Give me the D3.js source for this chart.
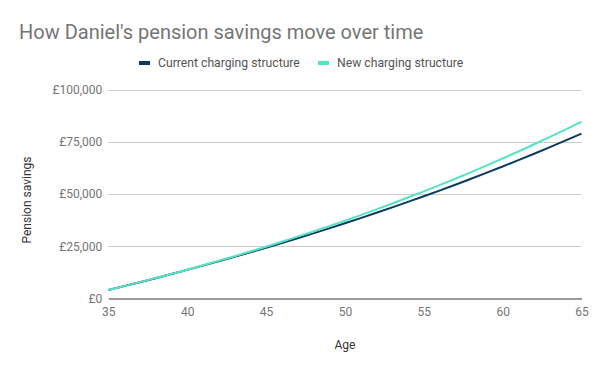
<!DOCTYPE html>
<html>
<head>
<meta charset="utf-8">
<script src="https://cdn.jsdelivr.net/npm/d3@7"></script>
<style>
  html, body { margin: 0; padding: 0; background: #fff; }
  svg { display: block; font-family: Roboto, "Noto Sans", sans-serif; }
</style>
</head>
<body>
<svg id="chart" width="600" height="371"></svg>
<script>
const ages = [35,36,37,38,39,40,41,42,43,44,45,46,47,48,49,50,51,52,53,54,55,56,57,58,59,60,61,62,63,64,65];
const currentCharging = [4000,5850,7740,9660,11620,13620,15660,17750,19870,22040,24250,26500,28800,31140,33540,35980,38460,41000,43590,46230,48930,51670,54480,57330,60250,63220,66260,69350,72510,75730,79010];
const newCharging = [4000,5850,7750,9700,11690,13730,15830,17980,20180,22440,24750,27130,29560,32050,34600,37220,39890,42640,45440,48320,51270,54270,57360,60510,63740,67040,70420,73870,77410,81020,84710];
const seriesNames = ["Current charging structure", "New charging structure"];
const seriesColors = ["#0c3a5f", "#55e3c4"];
const yTicks = [0, 25000, 50000, 75000, 100000];
const xTicks = [35, 40, 45, 50, 55, 60, 65];

const svg = d3.select("#chart");
const x = d3.scaleLinear().domain([35, 65]).range([108.3, 581.5]);
const y = d3.scaleLinear().domain([0, 100000]).range([298.3, 89.8]);

// Title
svg.append("text").attr("x", 19).attr("y", 39)
  .attr("font-size", 20).attr("fill", "#757575")
  .text("How Daniel's pension savings move over time");

// Legend
const legend = [{name: seriesNames[0], color: seriesColors[0], sx: 139, tx: 158},
                {name: seriesNames[1], color: seriesColors[1], sx: 318, tx: 337}];
legend.forEach(d => {
  svg.append("rect").attr("x", d.sx).attr("y", 61).attr("width", 11).attr("height", 4).attr("fill", d.color);
  svg.append("text").attr("x", d.tx).attr("y", 67).attr("font-size", 12.2).attr("fill", "#555").text(d.name);
});

// Gridlines
const grid = svg.append("g");
grid.selectAll("line").data(yTicks.filter(t => t > 0)).join("line")
  .attr("x1", x(35)).attr("x2", x(65))
  .attr("y1", d => Math.round(y(d)) + 0.5).attr("y2", d => Math.round(y(d)) + 0.5)
  .attr("stroke", "#cccccc").attr("stroke-width", 1);

// Y axis labels
const fmt = d => "£" + d3.format(",")(d);
const yAxis = d3.axisLeft(y).tickValues(yTicks).tickFormat(fmt).tickSize(0).tickPadding(6);
const yg = svg.append("g").attr("transform", `translate(${x(35)},0)`).call(yAxis);
yg.select(".domain").remove();
yg.selectAll("text").attr("font-size", 12).attr("fill", "#757575").attr("font-family", "Roboto, sans-serif");

// X axis
const xAxis = d3.axisBottom(x).tickValues(xTicks).tickSize(0).tickPadding(9);
const xg = svg.append("g").attr("transform", `translate(0,${Math.round(y(0)) + 0.5})`).call(xAxis);
xg.select(".domain").attr("stroke", "#333").attr("stroke-width", 1);
xg.selectAll("text").attr("font-size", 12).attr("fill", "#757575").attr("font-family", "Roboto, sans-serif");

// Axis titles
svg.append("text").attr("x", 345).attr("y", 349).attr("text-anchor", "middle")
  .attr("font-size", 12).attr("fill", "#333").text("Age");
svg.append("text").attr("transform", "translate(31,200) rotate(-90)").attr("text-anchor", "middle")
  .attr("font-size", 12).attr("fill", "#333").text("Pension savings");

// Lines
const line = d3.line().x((d, i) => x(ages[i])).y(d => y(d)).curve(d3.curveMonotoneX);
[currentCharging, newCharging].forEach((s, k) => {
  svg.append("path").datum(s).attr("d", line).attr("fill", "none")
    .attr("stroke", seriesColors[k]).attr("stroke-width", 2).attr("stroke-linejoin", "round");
});
</script>
</body>
</html>
